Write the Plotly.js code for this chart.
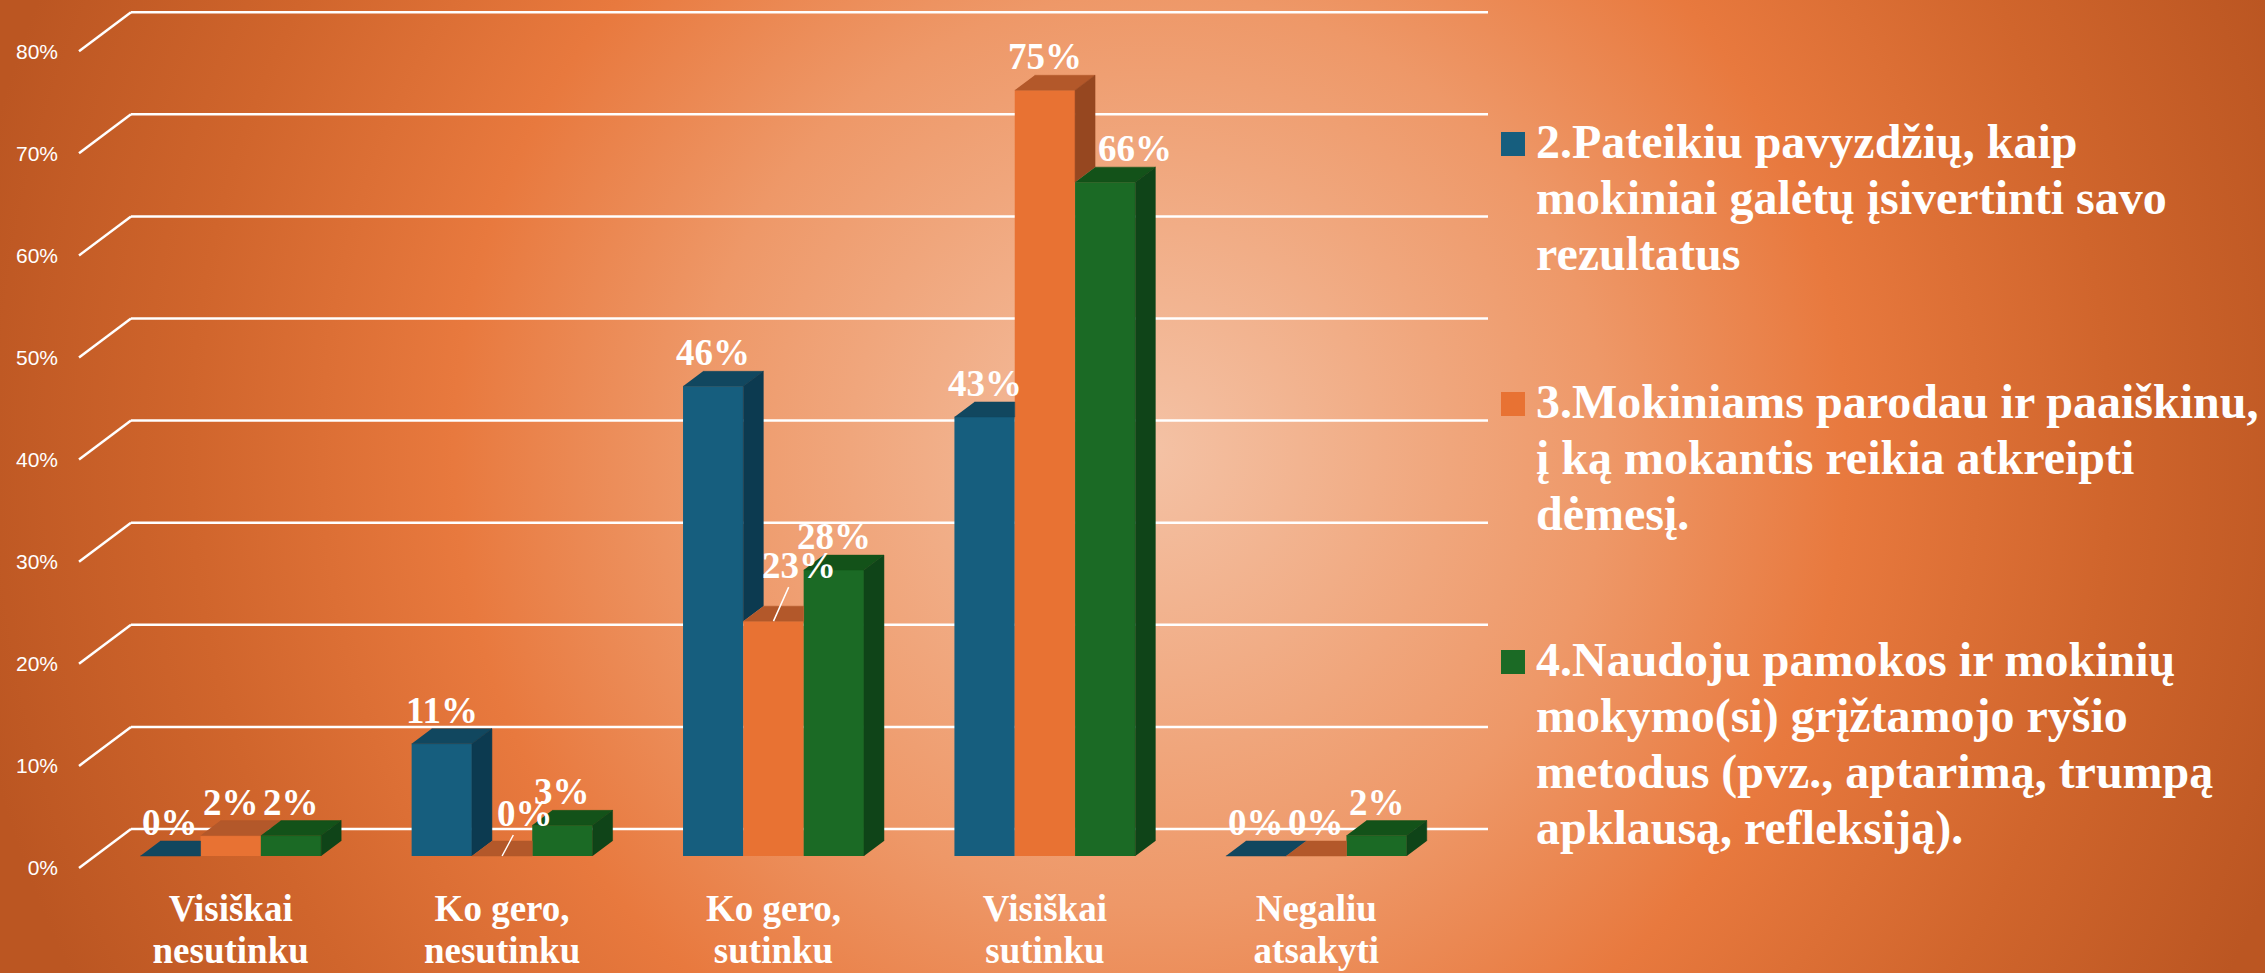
<!DOCTYPE html>
<html>
<head>
<meta charset="utf-8">
<script src="https://cdn.plot.ly/plotly-3.0.1.min.js"></script>
<style>
html,body{margin:0;padding:0;width:2265px;height:973px;overflow:hidden;}
body{background:radial-gradient(circle 1200px at 1150px 450px,#F4C2A5 0%,#F0A67C 25%,#EE9868 38%,#E8793E 58%,#D0652C 80%,#BB5622 100%);}
#chart{width:2265px;height:973px;}
</style>
</head>
<body>
<div id="chart"></div>
<script>
// ---------------- data ----------------
const categories = ['Visiškai nesutinku', 'Ko gero, nesutinku', 'Ko gero, sutinku', 'Visiškai sutinku', 'Negaliu atsakyti'];
const seriesLegendLines = [
  ['2.Pateikiu pavyzdžių, kaip', 'mokiniai galėtų įsivertinti savo', 'rezultatus'],
  ['3.Mokiniams parodau ir paaiškinu,', 'į ką mokantis reikia atkreipti', 'dėmesį.'],
  ['4.Naudoju pamokos ir mokinių', 'mokymo(si) grįžtamojo ryšio', 'metodus (pvz., aptarimą, trumpą', 'apklausą, refleksiją).']
];
const seriesNames = seriesLegendLines.map(l => l.join(' '));
const values2 = [0, 11, 46, 43, 0];
const values3 = [2, 0, 23, 75, 0];
const values4 = [2, 3, 28, 66, 2];
const seriesValues = [values2, values3, values4];
const yTickValues = [0, 10, 20, 30, 40, 50, 60, 70, 80];
const yTickLabels = ['0%', '10%', '20%', '30%', '40%', '50%', '60%', '70%', '80%'];

// ---------------- style ----------------
const frontColors = ['#165E7E', '#E87233', '#1B6A25'];
const topColors   = ['#11475F', '#B3582A', '#135219'];
const sideColors  = ['#0C3A50', '#964720', '#0F4418'];
const WHITE = '#FFFFFF';
const SERIF = '"Liberation Serif", "Times New Roman", serif';
const SANS = '"Liberation Sans", Arial, sans-serif';

const FIG_W = 2265, FIG_H = 973;
const PLOT_L = 95, PLOT_W = 1357, PLOT_T = 0, PLOT_H = 872;
const PX_PER_PCT = 10.21;
const BAR_ZERO_PX = 856;
const FLOOR_FRONT_DROP = 12, INSET_DX = 16;
const FLOOR_DX = 52, FLOOR_DY = 39;
const BAR_DX = 20, BAR_DY = 15;
const BARGAP = 1 / 3;
const LABEL_LIFT = 11;
const legendBaselines = [157, 417, 675];
const LEGEND_SQ_X = 1501, LEGEND_SQ = 24, LEGEND_TEXT_X = 1534;
// label nudges (series index, category index) -> pixel offsets
const labelNudges = {
  '1_1': {ax: 23, ay: -43, arrow: true},
  '1_2': {ax: 25, ay: -56, arrow: true},
  '2_3': {xshift: 30}
};

// ---------------- derived ----------------
const nCat = categories.length, nSer = seriesValues.length;
const catIdx = categories.map((c, i) => i);
const catPx = PLOT_W / nCat;
const dxU = BAR_DX / catPx, dyU = BAR_DY / PX_PER_PCT;
const barW = (1 - BARGAP) / nSer;
const barOffset = s => -(1 - BARGAP) / 2 + barW * (s + 0.5);

const yMinBar = -(PLOT_T + PLOT_H - BAR_ZERO_PX) / PX_PER_PCT;
const yRangeBar = [yMinBar, yMinBar + PLOT_H / PX_PER_PCT];
const frontZeroPx = BAR_ZERO_PX + FLOOR_FRONT_DROP;
const yMinFront = -(PLOT_T + PLOT_H - frontZeroPx) / PX_PER_PCT;
const yRangeFront = [yMinFront, yMinFront + PLOT_H / PX_PER_PCT];
const pxX = px => (px - PLOT_L) / PLOT_W;
const pxY = py => (PLOT_T + PLOT_H - py) / PLOT_H;

const wrapCat = c => { const k = c.lastIndexOf(' '); return '<span style="font-size:37px">' + c.slice(0, k) + '</span><br><span style="font-size:37px">' + c.slice(k + 1) + '</span>'; };

// ---------------- traces ----------------
const traces = [];
seriesValues.forEach((vals, s) => {
  traces.push({
    type: 'bar', name: seriesNames[s], x: catIdx, y: vals,
    marker: {color: frontColors[s], line: {width: 0}},
    showlegend: false, hoverinfo: 'skip'
  });
});
seriesValues.forEach((vals, s) => {
  const tx = [], ty = [], sx = [], sy = [];
  vals.forEach((v, i) => {
    const xl = i + barOffset(s) - barW / 2, xr = xl + barW;
    const n = s < nSer - 1 ? seriesValues[s + 1][i] : null;
    if (n !== null && n > v) {
      tx.push(xl, xr, xr, xl + dxU, null); ty.push(v, v, v + dyU, v + dyU, null);
    } else {
      tx.push(xl, xr, xr + dxU, xl + dxU, null); ty.push(v, v, v + dyU, v + dyU, null);
    }
    const lo = n !== null ? Math.min(Math.max(n, 0), v) : 0;
    if (v > lo) {
      sx.push(xr, xr, xr + dxU, xr + dxU, null); sy.push(lo, v, v + dyU, lo + dyU, null);
    }
  });
  traces.push({type: 'scatter', mode: 'lines', x: tx, y: ty, fill: 'toself', fillcolor: topColors[s],
    line: {color: topColors[s], width: 0.5}, connectgaps: false, showlegend: false, hoverinfo: 'skip'});
  traces.push({type: 'scatter', mode: 'lines', x: sx, y: sy, fill: 'toself', fillcolor: sideColors[s],
    line: {color: sideColors[s], width: 0.5}, connectgaps: false, showlegend: false, hoverinfo: 'skip'});
});
traces.push({type: 'scatter', mode: 'markers', x: [catIdx[0]], y: [yTickValues[0]], yaxis: 'y2',
  marker: {opacity: 0}, showlegend: false, hoverinfo: 'skip'});

// ---------------- shapes ----------------
const shapes = [];
const floorLeftPx = PLOT_L - INSET_DX;
yTickValues.forEach(v => {
  const yb = v + FLOOR_DY / PX_PER_PCT;
  shapes.push({type: 'line', xref: 'paper', yref: 'y2', layer: 'below',
    x0: pxX(floorLeftPx), y0: v, x1: pxX(floorLeftPx + FLOOR_DX), y1: yb,
    line: {color: WHITE, width: 2.5}});
  shapes.push({type: 'line', xref: 'paper', yref: 'y2', layer: 'below',
    x0: pxX(floorLeftPx + FLOOR_DX), y0: yb, x1: pxX(floorLeftPx + FLOOR_DX + PLOT_W), y1: yb,
    line: {color: WHITE, width: 2.5}});
});
legendBaselines.forEach((b, s) => {
  shapes.push({type: 'rect', xref: 'paper', yref: 'paper',
    x0: pxX(LEGEND_SQ_X), x1: pxX(LEGEND_SQ_X + LEGEND_SQ), y0: pxY(b - 1), y1: pxY(b - 1 - LEGEND_SQ),
    fillcolor: frontColors[s], line: {width: 0}});
});

// ---------------- annotations ----------------
const annotations = [];
seriesValues.forEach((vals, s) => {
  vals.forEach((v, i) => {
    const nd = labelNudges[s + '_' + i];
    const a = {xref: 'x', yref: 'y', x: i + barOffset(s), y: v, text: v + '%',
      font: {family: SERIF, size: 37, color: WHITE, weight: 'bold'}, showarrow: false,
      xanchor: 'center', yanchor: 'bottom', yshift: LABEL_LIFT};
    if (nd && nd.arrow) {
      Object.assign(a, {showarrow: true, ax: nd.ax, ay: nd.ay, arrowhead: 0, arrowwidth: 1.5,
        arrowcolor: WHITE, standoff: 0, startstandoff: 0, yanchor: 'middle', yshift: 0});
    } else if (nd && nd.xshift) {
      a.xshift = nd.xshift;
    }
    annotations.push(a);
  });
});
seriesLegendLines.forEach((lines, s) => {
  annotations.push({xref: 'paper', yref: 'paper', x: pxX(LEGEND_TEXT_X), y: pxY(legendBaselines[s] - 44),
    xanchor: 'left', yanchor: 'top', align: 'left', showarrow: false,
    text: lines.map(l => '<span style="font-size:48px">' + l + '</span>').join('<br>'),
    font: {family: SERIF, size: 43, color: WHITE, weight: 'bold'}});
});

// ---------------- layout ----------------
const layout = {
  width: FIG_W, height: FIG_H,
  margin: {l: PLOT_L, r: FIG_W - PLOT_L - PLOT_W, t: PLOT_T, b: FIG_H - PLOT_T - PLOT_H, pad: 0},
  paper_bgcolor: 'rgba(0,0,0,0)', plot_bgcolor: 'rgba(0,0,0,0)',
  barmode: 'group', bargap: BARGAP, bargroupgap: 0,
  showlegend: false,
  xaxis: {range: [-0.5, nCat - 0.5], tickvals: catIdx, ticktext: categories.map(wrapCat),
    showgrid: false, zeroline: false, showline: false, ticks: '', ticklabelstandoff: 16,
    tickfont: {family: SERIF, size: 32, color: WHITE, weight: 'bold'}, fixedrange: true},
  yaxis: {range: yRangeBar, showgrid: false, zeroline: false, showline: false,
    showticklabels: false, ticks: '', fixedrange: true},
  yaxis2: {overlaying: 'y', side: 'left', range: yRangeFront, tickvals: yTickValues, ticktext: yTickLabels,
    showgrid: false, zeroline: false, showline: false, ticks: '', ticklabelstandoff: 36,
    tickfont: {family: SANS, size: 21, color: WHITE}, fixedrange: true},
  shapes: shapes,
  annotations: annotations
};

Plotly.newPlot('chart', traces, layout, {displayModeBar: false, staticPlot: true});
</script>
</body>
</html>
